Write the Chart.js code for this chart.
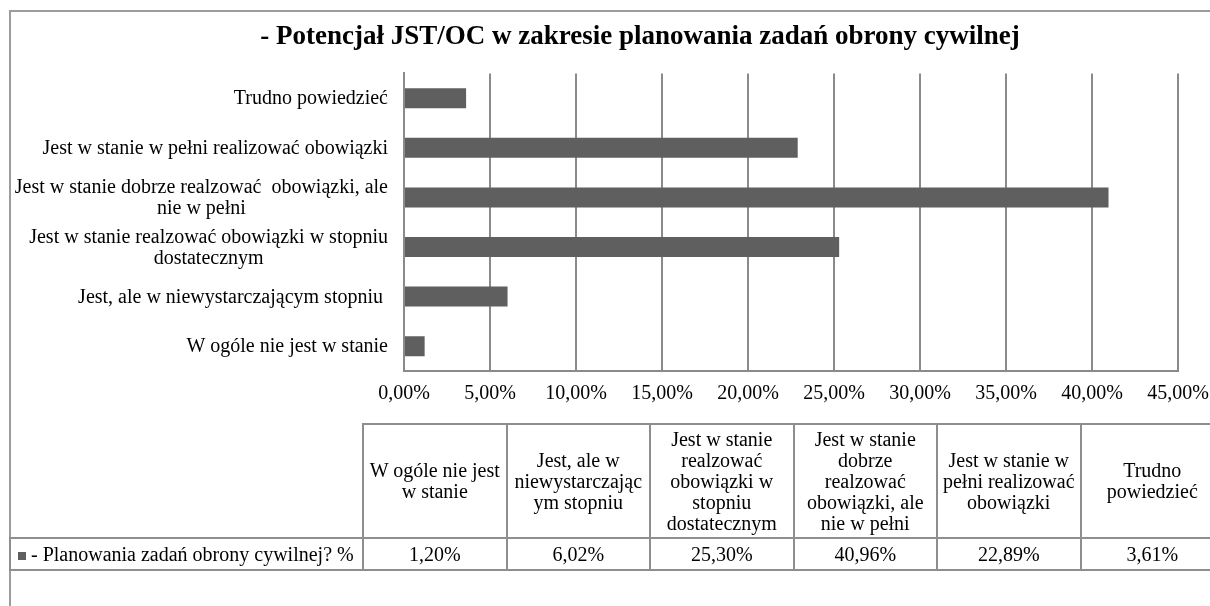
<!DOCTYPE html>
<html>
<head>
<meta charset="utf-8">
<script src="https://cdn.jsdelivr.net/npm/chart.js@4.4.1/dist/chart.umd.min.js"></script>
<style>
  html, body { margin: 0; padding: 0; background: #fff; overflow: hidden; }
  body { width: 1210px; height: 606px; position: relative; font-family: "Liberation Serif", "Times New Roman", serif; }
  #frame { position: absolute; left: 9px; top: 10px; width: 1300px; height: 700px; border: 2px solid #9c9c9c; box-sizing: border-box; }
  #wrap { position: absolute; left: 0; top: 0; width: 1210px; height: 606px; }
  table { position: absolute; left: 9px; top: 423px; width: 1214px; border-collapse: collapse; table-layout: fixed; font-size: 20px; color: #000; }
  td { border: 2px solid #8e8e8e; text-align: center; vertical-align: middle; padding: 0; line-height: 21px; white-space: nowrap; overflow: hidden; }
  td.blank { border-top: none; border-left: none; }
  tr.head td { height: 112px; }
  tr.vals td { height: 30px; }
  td.name { text-align: left; padding-left: 7px; }
  .mark { display: inline-block; width: 8px; height: 8px; background: #5f5f5f; margin-right: 5px; vertical-align: 1px; }
</style>
</head>
<body>
<div id="frame"></div>
<div id="wrap"><canvas id="myChart"></canvas></div>
<table id="dataTable">
  <colgroup id="cols"></colgroup>
  <tr class="head" id="headRow"><td class="blank"></td></tr>
  <tr class="vals" id="valRow"></tr>
</table>
<script>
// data, in table order (first category is drawn at the bottom of the chart)
const categories = [
  'W ogóle nie jest w stanie',
  'Jest, ale w niewystarczającym stopniu',
  'Jest w stanie realzować obowiązki w stopniu dostatecznym',
  'Jest w stanie dobrze realzować obowiązki, ale nie w pełni',
  'Jest w stanie w pełni realizować obowiązki',
  'Trudno powiedzieć'
];
const axisLabels = [
  ['W ogóle nie jest w stanie'],
  ['Jest, ale w niewystarczającym stopniu '],
  ['Jest w stanie realzować obowiązki w stopniu', 'dostatecznym'],
  ['Jest w stanie dobrze realzować  obowiązki, ale', 'nie w pełni'],
  ['Jest w stanie w pełni realizować obowiązki'],
  ['Trudno powiedzieć']
];
const tableHeads = [
  ['W ogóle nie jest', 'w stanie'],
  ['Jest, ale w', 'niewystarczając', 'ym stopniu'],
  ['Jest w stanie', 'realzować', 'obowiązki w', 'stopniu', 'dostatecznym'],
  ['Jest w stanie', 'dobrze', 'realzować', 'obowiązki, ale', 'nie w pełni'],
  ['Jest w stanie w', 'pełni realizować', 'obowiązki'],
  ['Trudno', 'powiedzieć']
];
const values = [1.20, 6.02, 25.30, 40.96, 22.89, 3.61];
const seriesName = '- Planowania zadań obrony cywilnej? %';
const chartTitle = '- Potencjał JST/OC w zakresie planowania zadań obrony cywilnej';
const xMin = 0, xMax = 45, xStep = 5;

const pct = v => v.toFixed(2).replace('.', ',') + '%';

// data table under the chart
const cols = document.getElementById('cols');
cols.innerHTML = '<col style="width:353px">' + categories.map(() => '<col style="width:143.5px">').join('');
const headRow = document.getElementById('headRow');
tableHeads.forEach(lines => {
  const td = document.createElement('td');
  td.innerHTML = lines.join('<br>');
  headRow.appendChild(td);
});
const valRow = document.getElementById('valRow');
valRow.innerHTML = '<td class="name"><span class="mark"></span>' + seriesName + '</td>' +
  values.map(v => '<td>' + pct(v) + '</td>').join('');

// category labels: right aligned block, lines centred inside it
const yLabels = {
  id: 'yLabels',
  afterDraw(chart) {
    const ctx = chart.ctx;
    const y = chart.scales.y;
    const right = chart.chartArea.left - 16;
    ctx.save();
    ctx.font = '20px "Liberation Serif"';
    ctx.fillStyle = '#000';
    ctx.textAlign = 'center';
    ctx.textBaseline = 'middle';
    axisLabels.forEach((lines, i) => {
      const cy = y.getPixelForValue(i) + 1;
      const w = Math.max(...lines.map(l => ctx.measureText(l).width));
      lines.forEach((l, k) => {
        ctx.fillText(l, right - w / 2, cy + (k - (lines.length - 1) / 2) * 21);
      });
    });
    ctx.restore();
  }
};

let myChart = document.getElementById('myChart').getContext('2d');

let userChart = new Chart(myChart, {
  type: 'bar',
  data: {
    labels: categories,
    datasets: [{
      label: seriesName,
      data: values,
      backgroundColor: '#5f5f5f',
      borderWidth: 0,
      barPercentage: 0.403,
      categoryPercentage: 1
    }]
  },
  options: {
    indexAxis: 'y',
    responsive: true,
    maintainAspectRatio: false,
    animation: false,
    layout: { padding: { left: 102, right: 32, top: 0, bottom: 0 } },
    plugins: {
      legend: { display: false },
      tooltip: { enabled: false },
      title: {
        display: true,
        text: chartTitle,
        color: '#000',
        font: { family: '"Liberation Serif"', size: 27, weight: 'bold' },
        padding: { top: 21, bottom: 20 }
      }
    },
    scales: {
      x: {
        min: xMin,
        max: xMax,
        ticks: {
          stepSize: xStep,
          color: '#000',
          padding: 11,
          font: { family: '"Liberation Serif"', size: 20 },
          callback: v => pct(v)
        },
        grid: { color: '#8a8a8a', lineWidth: 2, drawTicks: false },
        border: { color: '#8a8a8a', width: 2 },
        afterFit: s => { s.height = 235; s.paddingLeft = 0; s.paddingRight = 0; }
      },
      y: {
        reverse: true,
        ticks: { display: false },
        grid: { display: false, drawTicks: false },
        border: { color: '#8a8a8a', width: 2 },
        afterFit: s => { s.width = 302; }
      }
    }
  },
  plugins: [yLabels]
});
</script>
</body>
</html>
